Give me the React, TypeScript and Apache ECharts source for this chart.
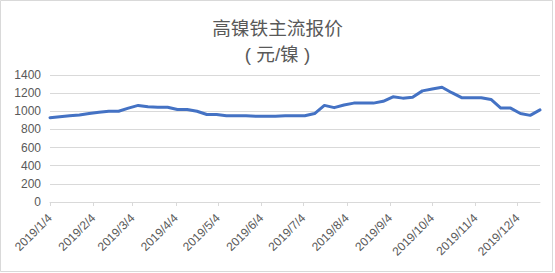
import React, { useEffect, useRef } from "react";
import * as echarts from "echarts";

const titleLines = ["高镍铁主流报价", "( 元/镍 )"];

const weekDates = [
  "2019/1/4", "2019/1/11", "2019/1/18", "2019/1/25",
  "2019/2/1", "2019/2/8", "2019/2/15", "2019/2/22",
  "2019/3/1", "2019/3/8", "2019/3/15", "2019/3/22", "2019/3/29",
  "2019/4/5", "2019/4/12", "2019/4/19", "2019/4/26",
  "2019/5/3", "2019/5/10", "2019/5/17", "2019/5/24", "2019/5/31",
  "2019/6/7", "2019/6/14", "2019/6/21", "2019/6/28",
  "2019/7/5", "2019/7/12", "2019/7/19", "2019/7/26",
  "2019/8/2", "2019/8/9", "2019/8/16", "2019/8/23", "2019/8/30",
  "2019/9/6", "2019/9/13", "2019/9/20", "2019/9/27",
  "2019/10/4", "2019/10/11", "2019/10/18", "2019/10/25",
  "2019/11/1", "2019/11/8", "2019/11/15", "2019/11/22", "2019/11/29",
  "2019/12/6", "2019/12/13", "2019/12/20",
];

const prices = [
  930, 940, 950, 960,
  975, 990, 1000, 1000,
  1035, 1065, 1050, 1045, 1045,
  1020, 1020, 1000, 965,
  965, 950, 950, 950, 945,
  945, 945, 950, 950,
  950, 975, 1065, 1040,
  1070, 1090, 1090, 1090, 1110,
  1160, 1145, 1155, 1225,
  1245, 1265, 1205, 1150,
  1150, 1150, 1130, 1035, 1035,
  975, 955, 1015,
];

const yMin = 0;
const yMax = 1400;
const yStep = 200;

function parseDay(s: string): number {
  const [y, m, d] = s.split("/").map(Number);
  return Date.UTC(y, m - 1, d);
}

function fmtDay(t: number): string {
  const dt = new Date(t);
  return `${dt.getUTCFullYear()}/${dt.getUTCMonth() + 1}/${dt.getUTCDate()}`;
}

export default function App() {
  const ref = useRef<HTMLDivElement>(null);

  useEffect(() => {
    document.body.style.margin = "0";
    if (!ref.current) return;
    const chart = echarts.init(ref.current, undefined, { renderer: "svg" });

    const DAY = 86400000;
    const start = parseDay(weekDates[0]);
    const end = parseDay(weekDates[weekDates.length - 1]);
    const valueByDay: Record<string, number> = {};
    weekDates.forEach((d, i) => {
      valueByDay[fmtDay(parseDay(d))] = prices[i];
    });
    const days: string[] = [];
    for (let t = start; t <= end; t += DAY) days.push(fmtDay(t));
    const data = days.map((d) => (d in valueByDay ? valueByDay[d] : "-"));

    const isMonthTick = (_i: number, v: string) => /\/4$/.test(v);

    const font = "'Liberation Sans', Arial, 'Noto Sans CJK SC', sans-serif";

    chart.setOption({
      animation: false,
      backgroundColor: "#ffffff",
      title: {
        text: titleLines.join("\n"),
        left: "center",
        top: 10,
        textStyle: {
          fontFamily: font,
          fontSize: 18.67,
          fontWeight: "normal",
          color: "#595959",
          lineHeight: 26,
        },
      },
      graphic: [
        {
          type: "rect",
          shape: { x: 0.5, y: 0.5, width: 552, height: 271 },
          style: { fill: "none", stroke: "#d9d9d9", lineWidth: 1 },
          silent: true,
        },
      ],
      grid: { left: 50, right: 15, top: 75, bottom: 71, containLabel: false },
      xAxis: {
        type: "category",
        data: days,
        boundaryGap: false,
        axisLine: { show: true, lineStyle: { color: "#d9d9d9", width: 1 } },
        axisTick: {
          show: true,
          interval: isMonthTick,
          length: 4,
          lineStyle: { color: "#d9d9d9" },
        },
        axisLabel: {
          interval: isMonthTick,
          rotate: 45,
          margin: 14,
          fontFamily: font,
          fontSize: 12,
          color: "#595959",
        },
        splitLine: { show: false },
      },
      yAxis: {
        type: "value",
        min: yMin,
        max: yMax,
        interval: yStep,
        axisLine: { show: false },
        axisTick: { show: false },
        axisLabel: {
          margin: 9,
          fontFamily: font,
          fontSize: 12,
          color: "#595959",
          formatter: (v: number) => String(v),
        },
        splitLine: { lineStyle: { color: "#d9d9d9", width: 1 } },
      },
      series: [
        {
          type: "line",
          data,
          connectNulls: true,
          showSymbol: false,
          symbol: "none",
          lineStyle: { color: "#4472C4", width: 3, join: "round", cap: "round" },
          itemStyle: { color: "#4472C4" },
        },
      ],
    });

    return () => chart.dispose();
  }, []);

  return <div ref={ref} style={{ width: 555, height: 273 }} />;
}
